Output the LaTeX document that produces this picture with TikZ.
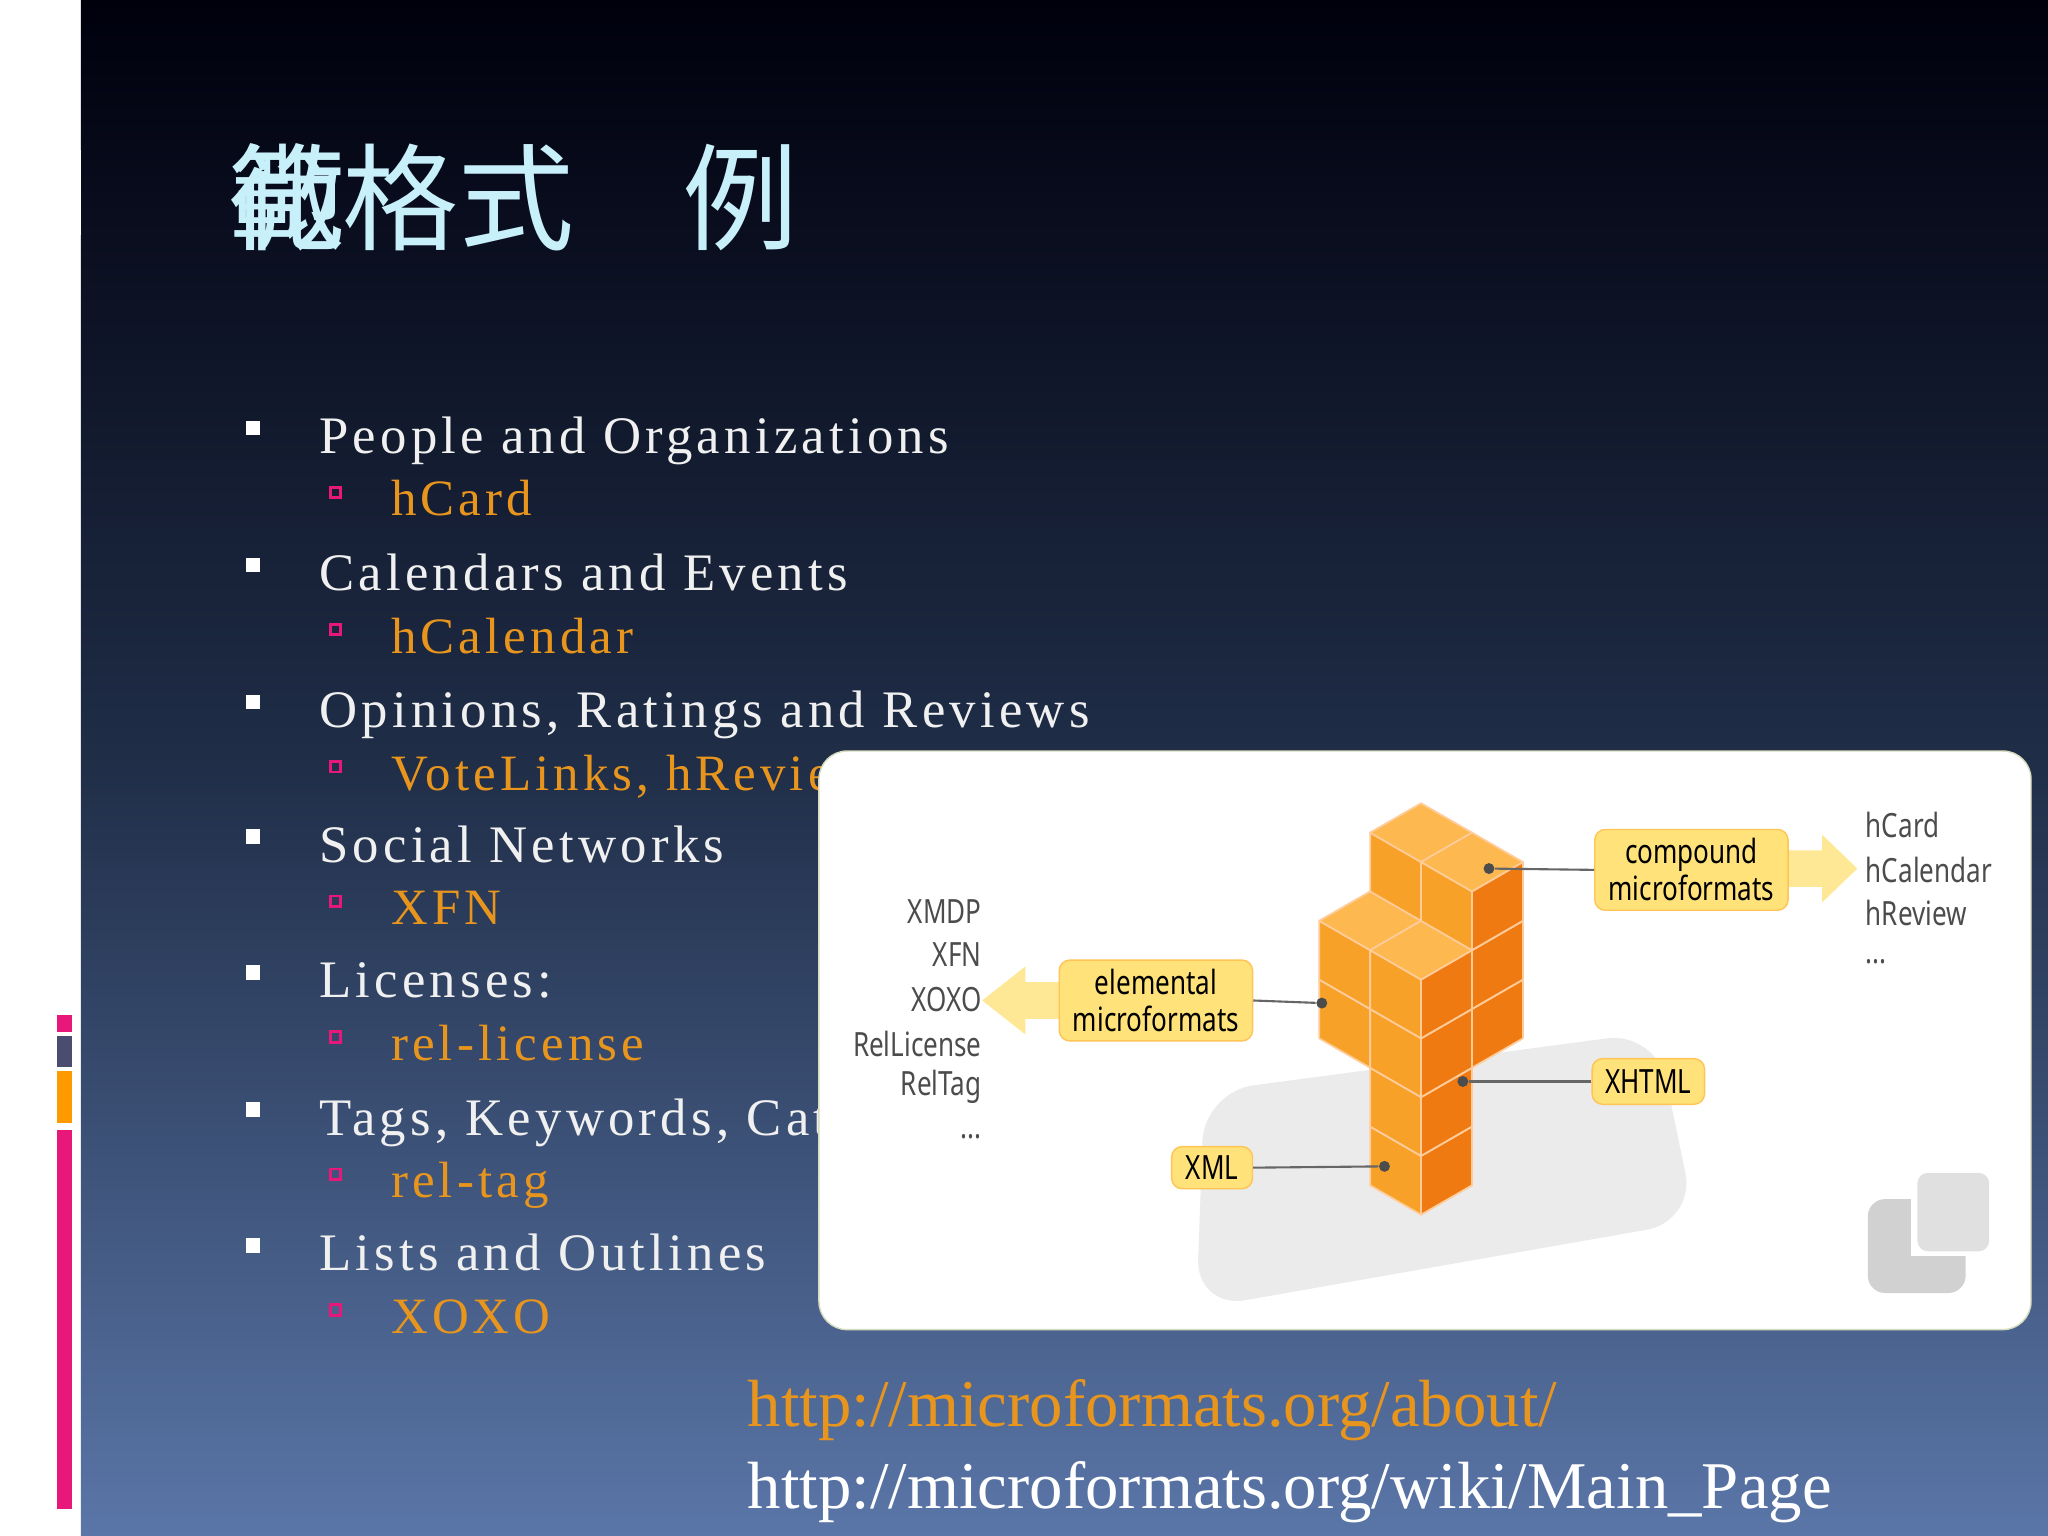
\documentclass[tikz,border=0pt]{standalone}
\usepackage{fontspec}
\setmainfont{Liberation Serif}
\newfontfamily\cjk{Noto Sans CJK SC}
\newfontfamily\spaced[LetterSpace=8]{Liberation Serif}
\newfontfamily\diag{Noto Sans}
\definecolor{ttl}{HTML}{C8F0FA}
\definecolor{org}{HTML}{E8951E}
\definecolor{pinkb}{HTML}{E8177A}
\definecolor{ctop}{HTML}{FDB850}
\definecolor{cleft}{HTML}{F7A128}
\definecolor{cright}{HTML}{F07A12}
\definecolor{lbl}{HTML}{FFE27A}
\newcommand\cubeat[3]{%
 \pgfmathsetmacro\cx{1088+(#1-#2)*0.866*45}%
 \pgfmathsetmacro\cy{930-(#1+#2)*0.5*45-#3*45}%
 \begin{scope}[shift={(\cx,\cy)},draw=orange!40!white,line width=0.5pt,line join=round]
 \filldraw[fill=cleft] (0,0)--(-39,-22.5)--(-39,-67.5)--(0,-45)--cycle;
 \filldraw[fill=cright] (0,0)--(39,-22.5)--(39,-67.5)--(0,-45)--cycle;
 \filldraw[fill=ctop] (0,-45)--(39,-67.5)--(0,-90)--(-39,-67.5)--cycle;
 \end{scope}}
\newcommand\cond[1]{\scalebox{0.78}[1]{#1}}
\newcommand\tdots{...}
\tikzset{
 mainitem/.style={anchor=base west,text=white!94!black,font=\spaced\fontsize{15}{18}\selectfont},
 subitem/.style={anchor=base west,text=org,font=\spaced\fontsize{14.5}{18}\selectfont},
 lab/.style={rounded corners=3pt,fill=lbl,draw=lbl!70!orange,inner sep=1pt,align=center,font=\diag\fontsize{9.5}{10.5}\selectfont},
 side/.style={font=\diag\fontsize{9.5}{12}\selectfont,text=black!70,inner sep=0pt},
 conn/.style={draw=black!60,line width=0.6pt},
 dot/.style={circle,fill=black!70,inner sep=1.1pt},
 fat/.style={fill=lbl!80!white,draw=none}
}
\begin{document}
\begin{tikzpicture}[x=0.013061cm,y=-0.013061cm]
\useasboundingbox (0,0) rectangle (1568,1176);
\fill[white] (0,0) rectangle (62,1176);
\shade[top color=black!95!blue,bottom color={rgb,255:red,90;green,118;blue,168},middle color={rgb,255:red,32;green,46;blue,72}] (62,0) rectangle (1568,1176);
\foreach \xx/\w in {37/1.5,41/1.5,45/2,49/2.5,54/8}{\fill[white] (\xx,115) rectangle ++(\w,65);}
\fill[pinkb] (44,777) rectangle (55,790);
\fill[black!65!blue!40!gray] (44,793) rectangle (55,817);
\fill[orange!80!yellow] (44,820) rectangle (55,860);
\fill[pinkb] (44,865) rectangle (55,1155);
\node[anchor=base west,text=ttl,font=\cjk\fontsize{33}{36}\selectfont,inner sep=0pt] (t1) at (175,185) {微};
\node[anchor=base west,text=ttl,font=\cjk\fontsize{33}{36}\selectfont,inner sep=0pt] (t2) at (175,185) {範};
\node[anchor=base west,text=ttl,font=\cjk\fontsize{33}{36}\selectfont,inner sep=0pt] (t3) at (262,185) {格式};
\node[anchor=base west,text=ttl,font=\cjk\fontsize{33}{36}\selectfont,inner sep=0pt] (t4) at (522,185) {例};
\foreach \yy/\m/\s [count=\i] in {347/People and Organizations/hCard,452/Calendars and Events/hCalendar,557/{Opinions, Ratings and Reviews}/{VoteLinks, hReview},660/Social Networks/XFN,764/Licenses:/rel-license,869/{Tags, Keywords, Categories}/rel-tag,973/Lists and Outlines/XOXO}{
 \fill[white] (188,\yy-25) rectangle ++(11,11);
 \node[mainitem,inner sep=0pt] (m\i) at (244,\yy) {\m};
 \draw[pinkb,line width=0.8pt] (253,\yy+26) rectangle ++(8,8);
 \node[subitem,inner sep=0pt] (s\i) at (299,\yy+48) {\s};
}
\filldraw[fill=white,draw=green!20!yellow!30!gray!40,rounded corners=8pt] (627,575) rectangle (1555,1018);
\fill[black!8,rounded corners=14pt] (922,836)--(1268,790)--(1298,935)--(916,1002)--cycle;
\fill[black!18,rounded corners=5pt] (1430,918) rectangle (1505,990);
\fill[white] (1463,896) rectangle (1528,962);
\fill[black!12,rounded corners=3pt] (1468,898) rectangle (1523,958);
\cubeat{0}{0}{0}
\cubeat{0}{0}{1}
\cubeat{1}{1}{2}\cubeat{1}{0}{2}\cubeat{0}{1}{2}\cubeat{0}{0}{2}
\cubeat{1}{1}{3}\cubeat{1}{0}{3}\cubeat{0}{1}{3}\cubeat{0}{0}{3}
\cubeat{1}{1}{4}\cubeat{1}{0}{4}
\fill[fat] (812,752)--(785,752)--(785,740)--(752,766)--(785,792)--(785,780)--(812,780)--cycle;
\fill[fat] (1366,651)--(1395,651)--(1395,639)--(1422,665)--(1395,691)--(1395,679)--(1366,679)--cycle;
\node[lab,minimum width=55pt,minimum height=23pt] (cmp) at (1295,666) {\cond{compound}\\\cond{microformats}};
\node[lab,minimum width=55pt,minimum height=23pt] (ele) at (885,766) {\cond{elemental}\\\cond{microformats}};
\node[lab,minimum width=32pt,minimum height=13pt] (xh) at (1262,828) {\cond{XHTML}};
\node[lab,minimum width=23pt,minimum height=12pt] (xm) at (928,894) {\cond{XML}};
\node[dot] (d1) at (1140,665) {};
\node[dot] (d2) at (1012,768) {};
\node[dot] (d3) at (1120,828) {};
\node[dot] (d4) at (1060,893) {};
\draw[conn] (cmp.west)--(d1);
\draw[conn] (ele.east)--(d2);
\draw[conn] (xh.west)--(d3);
\draw[conn] (xm.east)--(d4);
\foreach \t/\yy [count=\i] in {XMDP/698,XFN/731,XOXO/765,RelLicense/799,RelTag/832,\tdots/870}{
 \node[side,anchor=east] (l\i) at (752,\yy) {\cond{\t}};}
\foreach \t/\yy [count=\i] in {hCard/632,hCalendar/666,hReview/699,\tdots/736}{
 \node[side,anchor=west] (r\i) at (1428,\yy) {\cond{\t}};}
\node[anchor=base west,text=org,font=\fontsize{19}{22}\selectfont,inner sep=0pt] (u1) at (572,1092) {http://microformats.org/about/};
\node[anchor=base west,text=white,font=\fontsize{19}{22}\selectfont,inner sep=0pt] (u2) at (572,1155) {http://microformats.org/wiki/Main\_Page};
\end{tikzpicture}
\end{document}
